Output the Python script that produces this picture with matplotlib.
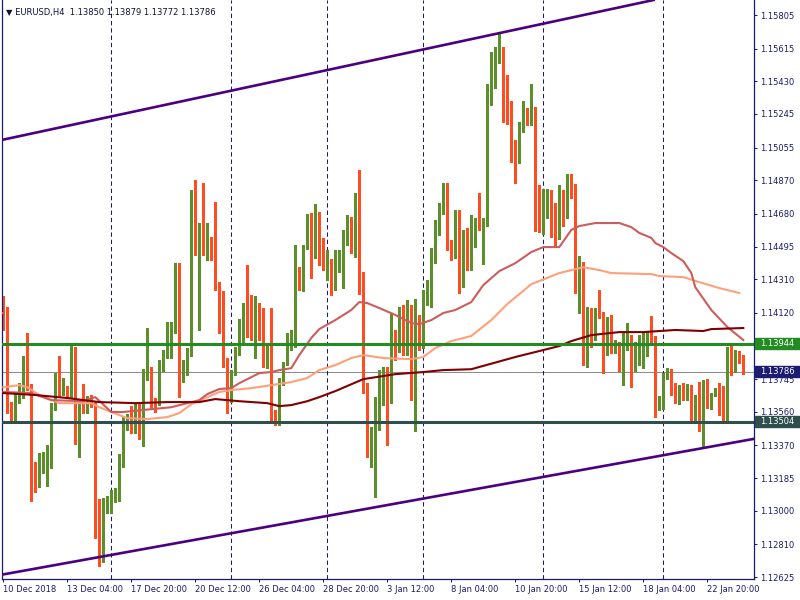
import numpy as np
import matplotlib.pyplot as plt
from matplotlib.patches import Rectangle
from matplotlib.transforms import blended_transform_factory

# EURUSD H4 candles, bar 0 = Mon 10 Dec 2018 12:00, last bar = Thu 24 Jan 2019 08:00
opens = [
    1.14125, 1.14119, 1.13603, 1.13542, 1.13626, 1.13699, 1.13824, 1.13699, 1.13185, 1.13150,
    1.13299, 1.13321, 1.13327, 1.13592, 1.13768, 1.13677, 1.13683, 1.13655, 1.13779, 1.13446,
    1.13638, 1.13559, 1.13643, 1.13609, 1.12919, 1.12732, 1.12998, 1.13026, 1.13060, 1.13072,
    1.13287, 1.13513, 1.13519, 1.13468, 1.13598, 1.13451, 1.13768, 1.13796, 1.13615, 1.13626,
    1.13812, 1.13875, 1.13892, 1.14017, 1.14265, 1.13756, 1.13818, 1.13892, 1.14787, 1.14464,
    1.14594, 1.14458, 1.14521, 1.14469, 1.14288, 1.14108, 1.13858, 1.13672, 1.13801, 1.13892,
    1.13943, 1.14141, 1.14096, 1.13881, 1.14085, 1.14028, 1.13835, 1.13892, 1.13553, 1.13513,
    1.13728, 1.13829, 1.13938, 1.13938, 1.14367, 1.14277, 1.14481, 1.14555, 1.14435, 1.14617,
    1.14407, 1.14322, 1.14390, 1.14288, 1.14362, 1.14464, 1.14515, 1.14617, 1.14521, 1.14787,
    1.14339, 1.13711, 1.13349, 1.13394, 1.13473, 1.13609, 1.13756, 1.13649, 1.13989, 1.13909,
    1.14045, 1.13898, 1.14034, 1.13711, 1.14056, 1.13938, 1.14209, 1.14232, 1.14412, 1.14578,
    1.14691, 1.14741, 1.14492, 1.14441, 1.14532, 1.14277, 1.14549, 1.14401, 1.14583, 1.14623,
    1.14611, 1.14623, 1.15335, 1.15420, 1.15544, 1.15618, 1.15251, 1.15217, 1.15069, 1.14995,
    1.15188, 1.15262, 1.15200, 1.15279, 1.14826, 1.14578, 1.14758, 1.14787, 1.14628, 1.14594,
    1.14798, 1.14668, 1.14854, 1.14837, 1.14328, 1.14384, 1.13892, 1.14108, 1.13983, 1.14119,
    1.14108, 1.13898, 1.13994, 1.13903, 1.13943, 1.13870, 1.13938, 1.13978, 1.13864, 1.13875,
    1.13892, 1.13886, 1.13983, 1.13978, 1.13581, 1.13586, 1.13756, 1.13779, 1.13716, 1.13609,
    1.13677, 1.13632, 1.13699, 1.13570, 1.13609, 1.13451, 1.13694, 1.13586, 1.13655, 1.13683,
    1.13553, 1.13536, 1.13926, 1.13796, 1.13870, 1.13850,
]
highs = [
    1.14215, 1.14152, 1.13615, 1.13666, 1.13722, 1.13875, 1.14006, 1.13716, 1.13276, 1.13327,
    1.13333, 1.13372, 1.13609, 1.13779, 1.13875, 1.13751, 1.13705, 1.13938, 1.13926, 1.13615,
    1.13716, 1.13649, 1.13655, 1.13615, 1.13066, 1.13072, 1.13083, 1.13117, 1.13128, 1.13321,
    1.13536, 1.13547, 1.13592, 1.13609, 1.13615, 1.13801, 1.14034, 1.13812, 1.13638, 1.13852,
    1.13909, 1.14068, 1.14068, 1.14401, 1.14401, 1.13852, 1.13921, 1.14815, 1.14871, 1.14628,
    1.14854, 1.14628, 1.14549, 1.14747, 1.14294, 1.14243, 1.13864, 1.13796, 1.13926, 1.14085,
    1.14175, 1.14390, 1.14221, 1.14215, 1.14175, 1.14147, 1.13932, 1.14147, 1.13570, 1.13751,
    1.13841, 1.14006, 1.14023, 1.14504, 1.14378, 1.14504, 1.14679, 1.14685, 1.14735, 1.14691,
    1.14544, 1.14475, 1.14424, 1.14475, 1.14475, 1.14589, 1.14674, 1.14662, 1.14798, 1.14928,
    1.14351, 1.13722, 1.13473, 1.13643, 1.13796, 1.13812, 1.13812, 1.14119, 1.14023, 1.14152,
    1.14164, 1.14192, 1.14164, 1.14198, 1.14108, 1.14249, 1.14305, 1.14487, 1.14645, 1.14741,
    1.14854, 1.14854, 1.14532, 1.14702, 1.14702, 1.14589, 1.14600, 1.14674, 1.14657, 1.14798,
    1.14657, 1.15414, 1.15596, 1.15624, 1.15709, 1.15624, 1.15466, 1.15318, 1.15098, 1.15200,
    1.15318, 1.15279, 1.15414, 1.15284, 1.14843, 1.14820, 1.14820, 1.14815, 1.14741, 1.14843,
    1.14815, 1.14905, 1.14905, 1.14849, 1.14441, 1.14407, 1.14152, 1.14147, 1.14147, 1.14249,
    1.14125, 1.14096, 1.14108, 1.13966, 1.13955, 1.14011, 1.14062, 1.13994, 1.13955, 1.13994,
    1.14011, 1.14011, 1.14102, 1.13989, 1.13649, 1.13779, 1.13807, 1.13801, 1.13722, 1.13711,
    1.13722, 1.13716, 1.13711, 1.13655, 1.13728, 1.13739, 1.13745, 1.13666, 1.13694, 1.13722,
    1.13705, 1.13926, 1.13932, 1.13909, 1.13903, 1.13879,
]
lows = [
    1.14023, 1.13553, 1.13496, 1.13496, 1.13609, 1.13638, 1.13683, 1.13054, 1.13106, 1.13133,
    1.13213, 1.13139, 1.13242, 1.13570, 1.13643, 1.13655, 1.13643, 1.13638, 1.13377, 1.13304,
    1.13553, 1.13553, 1.13586, 1.12846, 1.12686, 1.12709, 1.12987, 1.12987, 1.13049, 1.13054,
    1.13247, 1.13457, 1.13440, 1.13440, 1.13406, 1.13366, 1.13739, 1.13581, 1.13559, 1.13598,
    1.13790, 1.13864, 1.13864, 1.14006, 1.13643, 1.13728, 1.13768, 1.13875, 1.14447, 1.14023,
    1.14447, 1.14418, 1.14418, 1.14249, 1.14006, 1.13812, 1.13553, 1.13615, 1.13768, 1.13881,
    1.13938, 1.13983, 1.13966, 1.13864, 1.13966, 1.13812, 1.13807, 1.13513, 1.13485, 1.13485,
    1.13711, 1.13824, 1.13909, 1.13926, 1.14249, 1.14243, 1.14481, 1.14317, 1.14430, 1.14390,
    1.14362, 1.14305, 1.14221, 1.14249, 1.14351, 1.14260, 1.14504, 1.14458, 1.14435, 1.14226,
    1.13666, 1.13304, 1.13247, 1.13077, 1.13457, 1.13598, 1.13372, 1.13609, 1.13852, 1.13898,
    1.13881, 1.13881, 1.13626, 1.13451, 1.13909, 1.13921, 1.14164, 1.14152, 1.14401, 1.14561,
    1.14679, 1.14475, 1.14418, 1.14430, 1.14232, 1.14265, 1.14362, 1.14362, 1.14492, 1.14589,
    1.14395, 1.14611, 1.15296, 1.15392, 1.15533, 1.15200, 1.15188, 1.14973, 1.14854, 1.14967,
    1.15143, 1.15183, 1.15183, 1.14583, 1.14578, 1.14566, 1.14657, 1.14549, 1.14504, 1.14538,
    1.14611, 1.14657, 1.14770, 1.14232, 1.14119, 1.13824, 1.13812, 1.13926, 1.13966, 1.14091,
    1.13779, 1.13881, 1.13892, 1.13892, 1.13790, 1.13711, 1.13909, 1.13699, 1.13790, 1.13824,
    1.13807, 1.13875, 1.13938, 1.13530, 1.13570, 1.13575, 1.13745, 1.13655, 1.13609, 1.13603,
    1.13626, 1.13626, 1.13513, 1.13513, 1.13451, 1.13360, 1.13581, 1.13575, 1.13649, 1.13542,
    1.13496, 1.13513, 1.13768, 1.13785, 1.13835, 1.13772,
]
closes = [
    1.14113, 1.13598, 1.13542, 1.13626, 1.13705, 1.13818, 1.13699, 1.13179, 1.13150, 1.13304,
    1.13321, 1.13333, 1.13592, 1.13773, 1.13677, 1.13699, 1.13655, 1.13779, 1.13446, 1.13570,
    1.13559, 1.13632, 1.13609, 1.12919, 1.12732, 1.13004, 1.13032, 1.13066, 1.13077, 1.13299,
    1.13519, 1.13536, 1.13468, 1.13598, 1.13457, 1.13773, 1.13801, 1.13603, 1.13609, 1.13818,
    1.13892, 1.13903, 1.14028, 1.14260, 1.13756, 1.13824, 1.13898, 1.14798, 1.14464, 1.14594,
    1.14458, 1.14526, 1.14464, 1.14277, 1.14108, 1.13852, 1.13683, 1.13751, 1.13903, 1.13955,
    1.14141, 1.14091, 1.14034, 1.14102, 1.14028, 1.13835, 1.13892, 1.13553, 1.13513, 1.13733,
    1.13829, 1.13949, 1.13978, 1.14367, 1.14282, 1.14487, 1.14555, 1.14435, 1.14617, 1.14407,
    1.14401, 1.14395, 1.14288, 1.14367, 1.14469, 1.14521, 1.14617, 1.14521, 1.14787, 1.14339,
    1.13722, 1.13349, 1.13412, 1.13485, 1.13609, 1.13756, 1.13649, 1.13983, 1.13892, 1.14045,
    1.13898, 1.14039, 1.13638, 1.14056, 1.13926, 1.14215, 1.14238, 1.14424, 1.14583, 1.14696,
    1.14741, 1.14487, 1.14441, 1.14532, 1.14277, 1.14555, 1.14401, 1.14583, 1.14617, 1.14611,
    1.14634, 1.15335, 1.15420, 1.15550, 1.15618, 1.15251, 1.15211, 1.15058, 1.14995, 1.15188,
    1.15262, 1.15200, 1.15273, 1.14826, 1.14662, 1.14758, 1.14781, 1.14628, 1.14600, 1.14798,
    1.14634, 1.14854, 1.14832, 1.14339, 1.14384, 1.13892, 1.14119, 1.13978, 1.14119, 1.14102,
    1.13898, 1.13994, 1.13909, 1.13938, 1.13870, 1.13955, 1.13978, 1.13864, 1.13870, 1.13955,
    1.13983, 1.13983, 1.13972, 1.13581, 1.13638, 1.13762, 1.13779, 1.13705, 1.13609, 1.13677,
    1.13632, 1.13699, 1.13570, 1.13609, 1.13451, 1.13694, 1.13586, 1.13655, 1.13683, 1.13553,
    1.13536, 1.13926, 1.13779, 1.13870, 1.13852, 1.13786,
]

# moving averages, read at a few bars each
ma_fast_bars = [0, 7, 12, 20, 23, 27, 30, 42, 49, 51, 54, 57, 59, 62, 64, 67, 69, 72, 74, 77,
                79, 83, 87, 89, 91, 94, 98, 102, 104, 107, 110, 113, 117, 120, 124, 128, 132, 135, 139, 142,
                144, 148, 154, 157, 159, 162, 163, 165, 167, 170, 172, 173, 177, 181, 185]
ma_fast = [1.13672, 1.13666, 1.13626, 1.13620, 1.13643, 1.13559, 1.13559, 1.13586, 1.13626, 1.13660,
           1.13689, 1.13694, 1.13722, 1.13756, 1.13779, 1.13785, 1.13796, 1.13807, 1.13881, 1.13978,
           1.14028, 1.14079, 1.14136, 1.14181, 1.14175, 1.14147, 1.14108, 1.14062, 1.14056, 1.14079,
           1.14119, 1.14136, 1.14181, 1.14277, 1.14356, 1.14401, 1.14464, 1.14492, 1.14492, 1.14589,
           1.14611, 1.14628, 1.14628, 1.14605, 1.14572, 1.14544, 1.14515, 1.14492, 1.14458, 1.14413,
           1.14345, 1.14265, 1.14136, 1.14040, 1.13966]
ma_mid_bars = [0, 4, 6, 9, 14, 22, 24, 27, 31, 36, 41, 44, 47, 51, 54, 57, 62, 67, 72, 76,
               79, 83, 87, 90, 95, 102, 105, 108, 112, 117, 122, 126, 132, 139, 145, 149, 152, 162, 164, 170,
               174, 179, 184]
ma_mid = [1.13699, 1.13711, 1.13699, 1.13655, 1.13609, 1.13609, 1.13586, 1.13559, 1.13524, 1.13519,
          1.13530, 1.13553, 1.13603, 1.13643, 1.13672, 1.13683, 1.13694, 1.13711, 1.13728, 1.13751,
          1.13796, 1.13824, 1.13864, 1.13881, 1.13864, 1.13858, 1.13870, 1.13921, 1.13960, 1.13989,
          1.14079, 1.14170, 1.14282, 1.14345, 1.14378, 1.14362, 1.14345, 1.14339, 1.14328, 1.14322,
          1.14294, 1.14260, 1.14232]
ma_slow_bars = [0, 8, 16, 24, 33, 41, 49, 53, 59, 66, 69, 72, 76, 79, 83, 90, 98, 105, 110, 117,
                128, 139, 142, 147, 154, 160, 168, 175, 177, 185]
ma_slow = [1.13666, 1.13655, 1.13638, 1.13615, 1.13609, 1.13615, 1.13615, 1.13632, 1.13620, 1.13609,
           1.13592, 1.13598, 1.13620, 1.13643, 1.13677, 1.13745, 1.13773, 1.13785, 1.13796, 1.13801,
           1.13870, 1.13932, 1.13960, 1.13994, 1.14011, 1.14011, 1.14023, 1.14017, 1.14028, 1.14034]

# week separators (Monday 00:00 bars)
week_starts = [27, 57, 81, 105, 135, 165]

x_ticks = [0, 16, 32, 48, 64, 80, 96, 112, 128, 144, 160, 176]
x_labels = ['10 Dec 2018', '13 Dec 04:00', '17 Dec 20:00', '20 Dec 12:00', '26 Dec 04:00',
            '28 Dec 20:00', '3 Jan 12:00', '8 Jan 04:00', '10 Jan 20:00', '15 Jan 12:00',
            '18 Jan 04:00', '22 Jan 20:00']
y_ticks = [1.15805, 1.15615, 1.15430, 1.15245, 1.15055, 1.14870, 1.14680, 1.14495, 1.14310,
           1.14120, 1.13935, 1.13745, 1.13560, 1.13370, 1.13185, 1.13000, 1.12810, 1.12625]
# the 1.13935 label sits under the resistance price box
hidden_tick = 1.13935

resistance = 1.13944
support = 1.13504
bid = 1.13786
upper_channel = [(0, 1.15100), (185, 1.15999)]
lower_channel = [(0, 1.12640), (185, 1.13396)]

NAVY = '#1b1b6b'
BULL = '#5a8f29'
BEAR = '#ff4d22'
Y_LO, Y_HI = 1.12614, 1.15890

fig = plt.figure(figsize=(8, 6), dpi=100)
ax = fig.add_axes([2 / 800, 21 / 600, 752 / 800, 579 / 600])
ax.set_xlim(-0.325, 187.675)
ax.set_ylim(Y_LO, Y_HI)

o = np.array(opens)
h = np.array(highs)
l = np.array(lows)
c = np.array(closes)
x = np.arange(len(o))
up = c >= o
cols = np.where(up, BULL, BEAR)

ax.axhline(bid, color='#8c8c8c', lw=0.75, zorder=1)
for b in week_starts:
    ax.axvline(b, color=NAVY, lw=0.75, ls=(0, (4.2, 2.8)), zorder=1)

ax.vlines(x, l, h, colors=cols, lw=0.8, zorder=2, antialiased=False)
body = np.maximum(np.abs(c - o), 0.00005)
ax.bar(x, body, bottom=np.minimum(o, c), width=0.75, color=cols, lw=0,
       zorder=3, antialiased=False)

ax.plot(ma_mid_bars, ma_mid, color='#ffa07a', lw=1.5, zorder=4)
ax.plot(ma_fast_bars, ma_fast, color='#cd5c5c', lw=1.5, zorder=4)
ax.plot(ma_slow_bars, ma_slow, color='#800000', lw=1.5, zorder=4)

ax.axhline(resistance, color='#228b22', lw=2.2, zorder=5)
ax.axhline(support, color='#2f4f4f', lw=2.2, zorder=5)
ax.axline(*upper_channel, color='#4b0082', lw=1.9, zorder=5)
ax.axline(*lower_channel, color='#4b0082', lw=1.9, zorder=5)

for side in ['left', 'bottom', 'right']:
    ax.spines[side].set_color(NAVY)
    ax.spines[side].set_linewidth(0.9)
ax.spines['top'].set_visible(False)

ax.yaxis.tick_right()
ax.set_yticks(y_ticks, ['' if v == hidden_tick else f'{v:.5f}' for v in y_ticks])
ax.set_xticks(x_ticks, x_labels, ha='left')
ax.tick_params(axis='both', direction='out', length=2.5, width=0.75, color=NAVY,
               labelcolor=NAVY, labelsize=6, pad=2)
ax.tick_params(axis='x', pad=1.5)

trans = blended_transform_factory(fig.transFigure, ax.transData)
box_h = 11 * (Y_HI - Y_LO) / 579
for price, col in [(resistance, '#228b22'), (bid, '#1c1c70'), (support, '#2f4f4f')]:
    ax.add_patch(Rectangle((755 / 800, price - box_h / 2), 45 / 800, box_h, transform=trans,
                           color=col, clip_on=False, zorder=10))
    ax.text(760 / 800, price, f'{price:.5f}', transform=trans, color='white', fontsize=6,
            va='center', ha='left', zorder=11, clip_on=False)

fig.text(6 / 800, 1 - 12 / 600, '\u25bc EURUSD,H4  1.13850 1.13879 1.13772 1.13786',
         fontsize=6, va='center', color='#10103a')

fig.savefig('out.png', dpi=100)
